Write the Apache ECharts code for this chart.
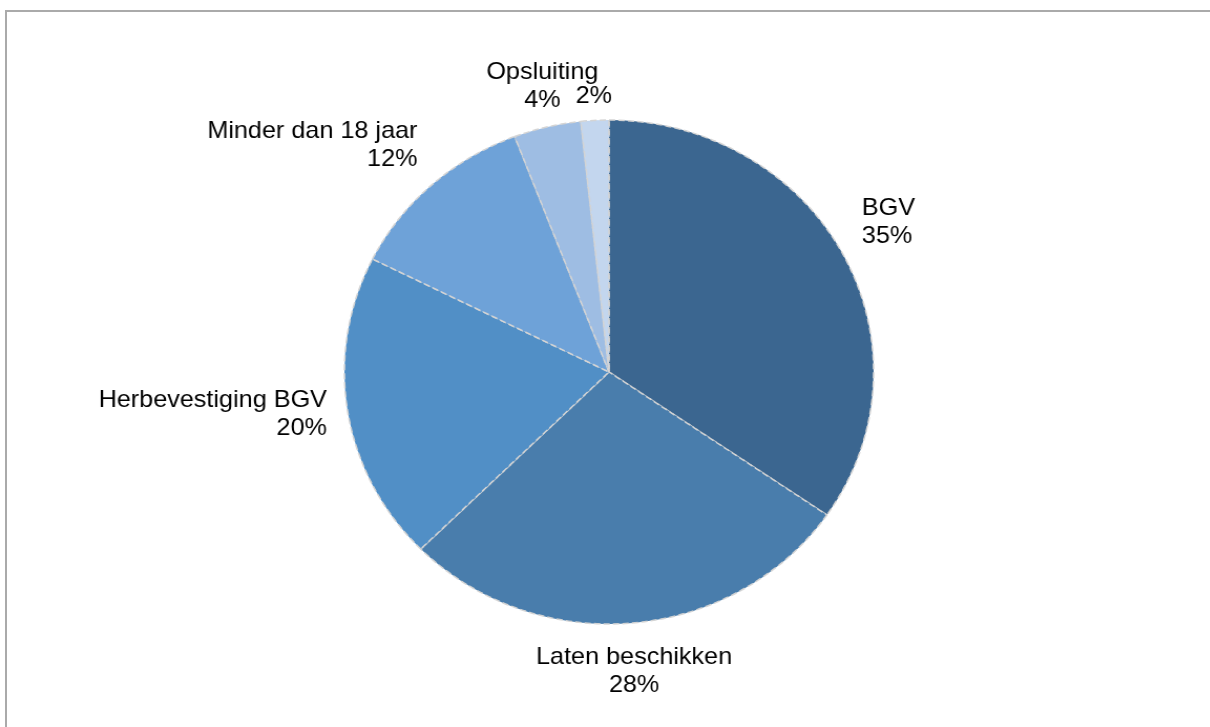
<!DOCTYPE html>
<html>
<head>
<meta charset="utf-8">
<script src="https://cdn.jsdelivr.net/npm/echarts@6/dist/echarts.min.js"></script>
<style>
	html, body { margin: 0; padding: 0; background: #fff; overflow: hidden; }
	#frame {
		position: absolute; left: 5px; top: 10px; width: 1210px; height: 727px;
		border-top: 2px solid #aaaaaa; border-left: 2px solid #aaaaaa;
	}
	#chart {
		position: absolute; left: 0; top: 0; width: 1152px; height: 727px;
		transform: scaleX(1.05); transform-origin: 0 0;
	}
</style>
</head>
<body>
<div id="frame"></div>
<div id="chart"></div>
<script>
const categories = ["BGV", "Laten beschikken", "Herbevestiging BGV", "Minder dan 18 jaar", "Opsluiting", ""];
const values = [34.6, 28.0, 19.8, 11.8, 4.1, 1.7];
const colors = ["#3b6690", "#497dac", "#518fc6", "#6ea2d8", "#9ebde3", "#c3d6ee"];

// label anchor alignment per slice (Excel puts top labels above, bottom below)
const labelAlign = [
	{ align: "left", verticalAlign: "bottom", dy: 5 },
	{ align: "center", verticalAlign: "top" },
	{ align: "right", verticalAlign: "middle" },
	{ align: "right", verticalAlign: "bottom", dy: 3 },
	{ align: "center", verticalAlign: "bottom", dy: 7 },
	{ align: "center", verticalAlign: "bottom", dy: 10 },
];

const chart = echarts.init(document.getElementById("chart"), null, { renderer: "canvas" });

chart.setOption({
	animation: false,
	series: [
		{
			type: "pie",
			center: [580, 372],
			radius: [0, 252],
			startAngle: 90,
			clockwise: true,
			avoidLabelOverlap: false,
			percentPrecision: 1,
			itemStyle: {
				borderColor: "#d4d4d4",
				borderWidth: 1.5,
				borderType: "dashed",
			},
			label: {
				show: true,
				position: "outside",
				distanceToLabelLine: 0,
				fontFamily: "Liberation Sans, Arial, sans-serif",
				fontSize: 24,
				lineHeight: 28,
				color: "#000",
				formatter: (p) => {
					const pct = Math.round(p.percent) + "%";
					return p.name ? p.name + "\n" + pct : pct;
				},
			},
			labelLine: { show: false, length: 20, length2: 0 },
			labelLayout: (p) => labelAlign[p.dataIndex],
			emphasis: { disabled: true },
			data: categories.map((name, i) => ({
				name: name,
				value: values[i],
				itemStyle: { color: colors[i] },
			})),
		},
	],
});
</script>
</body>
</html>
